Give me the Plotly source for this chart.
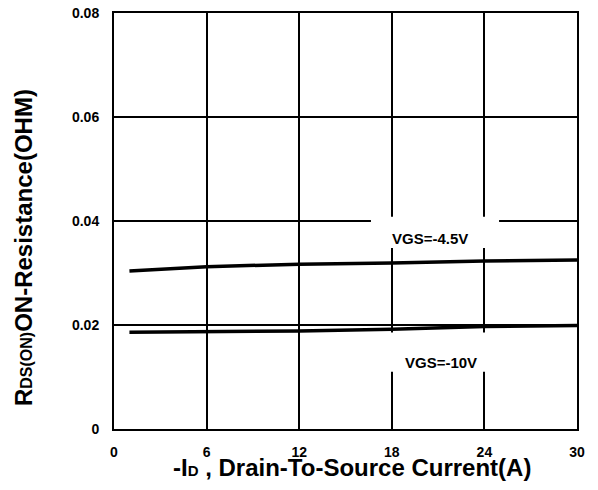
import plotly.graph_objects as go

# Data
current_a = [1, 6, 12, 18, 24, 30]
rds_vgs_45 = [0.0304, 0.0312, 0.0317, 0.0319, 0.0323, 0.0325]
rds_vgs_10 = [0.0186, 0.01865, 0.01885, 0.0192, 0.0197, 0.0199]
x_ticks = [0, 6, 12, 18, 24, 30]
y_ticks = [0, 0.02, 0.04, 0.06, 0.08]
y_tick_labels = ["0", "0.02", "0.04", "0.06", "0.08"]

FONT = "Liberation Sans, Arial, sans-serif"

fig = go.Figure()
fig.add_trace(go.Scatter(x=current_a, y=rds_vgs_45, mode="lines",
                         line=dict(color="black", width=3.5), showlegend=False))
fig.add_trace(go.Scatter(x=current_a, y=rds_vgs_10, mode="lines",
                         line=dict(color="black", width=3.5), showlegend=False))

# white label boxes that interrupt the grid
fig.add_shape(type="rect", x0=16.65, x1=24.95, y0=0.0348, y1=0.0408,
              fillcolor="white", line=dict(width=0), layer="above")
fig.add_shape(type="rect", x0=17.4, x1=24.8, y0=0.0110, y1=0.01855,
              fillcolor="white", line=dict(width=0), layer="above")

fig.add_annotation(x=20.47, y=0.0366, text="<b>VGS=-4.5V</b>", showarrow=False,
                   font=dict(family=FONT, size=15, color="black"))
fig.add_annotation(x=21.19, y=0.0127, text="<b>VGS=-10V</b>", showarrow=False,
                   font=dict(family=FONT, size=15, color="black"))

fig.add_annotation(xref="paper", yref="paper", x=0.514, y=-0.092,
                   text="<b>-I<span style='font-size:15px'>D</span> , Drain-To-Source Current(A)</b>",
                   showarrow=False, xanchor="center", yanchor="middle",
                   font=dict(family=FONT, size=24, color="black"))
fig.add_annotation(xref="paper", yref="paper", x=-0.1965, y=0.435,
                   text="<b>R<span style='font-size:16px'>DS(ON)</span>ON-Resistance(OHM)</b>",
                   showarrow=False, textangle=-90, xanchor="center", yanchor="middle",
                   font=dict(family=FONT, size=24, color="black"))

fig.update_xaxes(range=[0, 30], tickvals=x_ticks, ticktext=[f"<b>{v}</b>" for v in x_ticks],
                 showgrid=True, gridcolor="black", gridwidth=2,
                 showline=True, linecolor="black", linewidth=2, mirror=True,
                 zeroline=False, ticks="", ticklabelstandoff=9, automargin=False,
                 ticklabeloverflow="allow",
                 tickfont=dict(family=FONT, size=14, color="black"))
fig.update_yaxes(range=[0, 0.08], tickvals=y_ticks,
                 ticktext=[f"<b>{t}</b>" for t in y_tick_labels],
                 showgrid=True, gridcolor="black", gridwidth=2,
                 showline=True, linecolor="black", linewidth=2, mirror=True,
                 zeroline=False, ticks="", ticklabelstandoff=10, automargin=False,
                 ticklabeloverflow="allow",
                 tickfont=dict(family=FONT, size=14, color="black"))

# page body has an 8px margin, so the figure is sized to fit the 598x490 window
fig.update_layout(width=582, height=474,
                  margin=dict(l=106, r=13, t=5, b=53),
                  paper_bgcolor="white", plot_bgcolor="white",
                  font=dict(family=FONT, color="black"))

fig.write_html("out.html")
